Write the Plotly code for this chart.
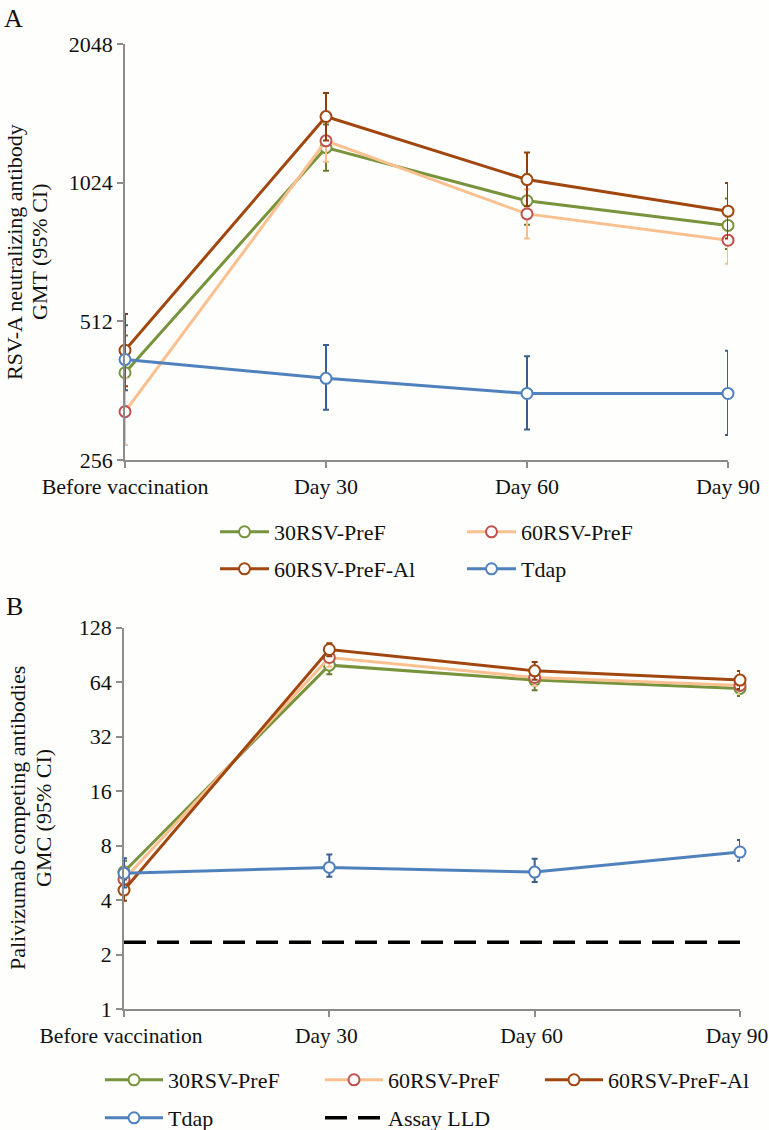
import math
import plotly.graph_objects as go

categories = ["Before vaccination", "Day 30", "Day 60", "Day 90"]

# Panel A: RSV-A neutralizing antibody GMT (95% CI)
gmt_30 = [396, 1220, 935, 827]
gmt_30_lo = [335, 1087, 830, 735]
gmt_30_hi = [477, 1370, 1068, 946]
gmt_60 = [326, 1262, 876, 768]
gmt_60_lo = [276, 1137, 775, 683]
gmt_60_hi = [385, 1400, 990, 865]
gmt_60al = [443, 1425, 1040, 888]
gmt_60al_lo = [370, 1265, 910, 775]
gmt_60al_hi = [531, 1604, 1191, 1022]
gmt_tdap = [423, 385, 357, 357]
gmt_tdap_lo = [363, 329, 298, 290]
gmt_tdap_hi = [502, 455, 430, 442]
ticks_a = [256, 512, 1024, 2048]

# Panel B: Palivizumab competing antibodies GMC (95% CI)
gmc_30 = [5.73, 79.5, 65.7, 59.1]
gmc_30_lo = [4.9, 70.9, 57.8, 53.6]
gmc_30_hi = [6.6, 88, 73, 65]
gmc_60 = [5.2, 87.6, 67.9, 61.4]
gmc_60_lo = [4.5, 78, 61, 55]
gmc_60_hi = [6.0, 97, 75, 68]
gmc_60al = [4.54, 97, 73.9, 65.7]
gmc_60al_lo = [3.96, 89, 66, 58.6]
gmc_60al_hi = [5.2, 105, 82.8, 73.7]
gmc_tdap = [5.62, 6.06, 5.71, 7.37]
gmc_tdap_lo = [4.7, 5.38, 5.03, 6.6]
gmc_tdap_hi = [6.8, 7.15, 6.76, 8.58]
assay_lld = [2.34, 2.34, 2.34, 2.34]
ticks_b = [1, 2, 4, 8, 16, 32, 64, 128]

FONT = "Liberation Serif"
BG = "#FEFEFC"
AXC = "#8C8C8C"
TXT = "#111111"

series_style = {
    "30RSV-PreF": dict(line="#77933C", marker="#77933C", err="#66802F"),
    "60RSV-PreF": dict(line="#FAC090", marker="#C0504D", err="#F9BE8C"),
    "60RSV-PreF-Al": dict(line="#A0460E", marker="#A0460E", err="#8E3E0C"),
    "Tdap": dict(line="#4F81BD", marker="#4F81BD", err="#3A5F8F"),
}

fig = go.Figure()


def add_series(name, y, lo, hi, xa, ya, legend):
    st = series_style[name]
    fig.add_trace(go.Scatter(
        x=categories, y=y, name=name, mode="lines+markers",
        xaxis=xa, yaxis=ya, legend=legend, cliponaxis=False,
        line=dict(color=st["line"], width=3),
        marker=dict(symbol="circle", size=11, color="white",
                    line=dict(color=st["marker"], width=2)),
        error_y=dict(type="data", symmetric=False,
                     array=[h - v for h, v in zip(hi, y)],
                     arrayminus=[v - l for v, l in zip(y, lo)],
                     color=st["err"], thickness=2, width=3),
    ))


# Panel A
add_series("30RSV-PreF", gmt_30, gmt_30_lo, gmt_30_hi, "x", "y", "legend")
add_series("60RSV-PreF", gmt_60, gmt_60_lo, gmt_60_hi, "x", "y", "legend")
add_series("60RSV-PreF-Al", gmt_60al, gmt_60al_lo, gmt_60al_hi, "x", "y", "legend2")
add_series("Tdap", gmt_tdap, gmt_tdap_lo, gmt_tdap_hi, "x", "y", "legend2")

# Panel B
add_series("30RSV-PreF", gmc_30, gmc_30_lo, gmc_30_hi, "x2", "y2", "legend3")
add_series("60RSV-PreF", gmc_60, gmc_60_lo, gmc_60_hi, "x2", "y2", "legend3")
add_series("60RSV-PreF-Al", gmc_60al, gmc_60al_lo, gmc_60al_hi, "x2", "y2", "legend3")
add_series("Tdap", gmc_tdap, gmc_tdap_lo, gmc_tdap_hi, "x2", "y2", "legend4")
fig.add_trace(go.Scatter(
    x=categories, y=assay_lld, name="Assay LLD", mode="lines",
    xaxis="x2", yaxis="y2", legend="legend4",
    line=dict(color="black", width=3.5, dash="22px,11px"),
))

W, H = 769, 1130


def px_x(v):
    return v / W


def px_y(v):
    return 1 - v / H


xcommon = dict(type="category", categoryorder="array", categoryarray=categories,
               range=[0, 3], showgrid=False, zeroline=False, showline=True,
               automargin=False,
               linecolor=AXC, linewidth=1.5, ticks="outside", ticklen=6,
               tickwidth=1.5, tickcolor=AXC,
               tickfont=dict(family=FONT, size=22, color=TXT))
ycommon = dict(type="log", showgrid=False, zeroline=False, showline=True,
               automargin=False,
               linecolor=AXC, linewidth=1.5, ticks="outside", ticklen=6,
               tickwidth=1.5, tickcolor=AXC,
               tickfont=dict(family=FONT, size=22, color=TXT))

fig.update_layout(
    width=W, height=H, paper_bgcolor=BG, plot_bgcolor=BG,
    margin=dict(l=0, r=0, t=0, b=0, autoexpand=False),
    font=dict(family=FONT, size=22, color=TXT),
    xaxis=dict(xcommon, domain=[px_x(125), px_x(728)], anchor="y"),
    yaxis=dict(ycommon, domain=[px_y(460), px_y(44)], anchor="x",
               range=[math.log10(ticks_a[0]), math.log10(ticks_a[-1])],
               tickvals=ticks_a, ticktext=[str(t) for t in ticks_a]),
    xaxis2=dict(xcommon, domain=[px_x(124), px_x(740)], anchor="y2",
                ticklabelshift=-3,
                tickfont=dict(family=FONT, size=21.5, color=TXT)),
    yaxis2=dict(ycommon, domain=[px_y(1009), px_y(627.7)], anchor="x2",
                range=[math.log10(ticks_b[0]), math.log10(ticks_b[-1])],
                tickvals=ticks_b, ticktext=[str(t) for t in ticks_b]),
)

leg_common = dict(orientation="h", xanchor="left", yanchor="middle",
                  bgcolor="rgba(0,0,0,0)", borderwidth=0,
                  entrywidthmode="pixels", tracegroupgap=0,
                  font=dict(family=FONT, size=22, color=TXT),
                  itemclick=False, itemdoubleclick=False)
fig.update_layout(
    legend=dict(leg_common, x=px_x(215), y=px_y(532), entrywidth=183, itemwidth=49),
    legend2=dict(leg_common, x=px_x(215), y=px_y(569), entrywidth=183, itemwidth=49),
    legend3=dict(leg_common, x=px_x(100), y=px_y(1080), entrywidth=147, itemwidth=58),
    legend4=dict(leg_common, x=px_x(100), y=px_y(1118), entrywidth=147, itemwidth=58),
)

annotations = [
    dict(text="A", x=px_x(2), y=px_y(2), xanchor="left", yanchor="top",
         font=dict(size=26)),
    dict(text="B", x=px_x(4), y=px_y(590), xanchor="left", yanchor="top",
         font=dict(size=26)),
    dict(text="RSV-A neutralizing antibody", x=px_x(15), y=px_y(252),
         textangle=-90, xanchor="center", yanchor="middle"),
    dict(text="GMT (95% CI)", x=px_x(40), y=px_y(252),
         textangle=-90, xanchor="center", yanchor="middle"),
    dict(text="Palivizumab competing antibodies", x=px_x(18), y=px_y(818),
         textangle=-90, xanchor="center", yanchor="middle"),
    dict(text="GMC (95% CI)", x=px_x(44), y=px_y(818),
         textangle=-90, xanchor="center", yanchor="middle"),
]
for a in annotations:
    a.update(xref="paper", yref="paper", showarrow=False)
    a.setdefault("font", dict(size=22))
    a["font"].update(family=FONT, color=TXT)
fig.update_layout(annotations=annotations)

fig.write_html("out.html", config={"displayModeBar": False},
               post_script="document.body.style.margin='0';document.body.style.padding='0';")
